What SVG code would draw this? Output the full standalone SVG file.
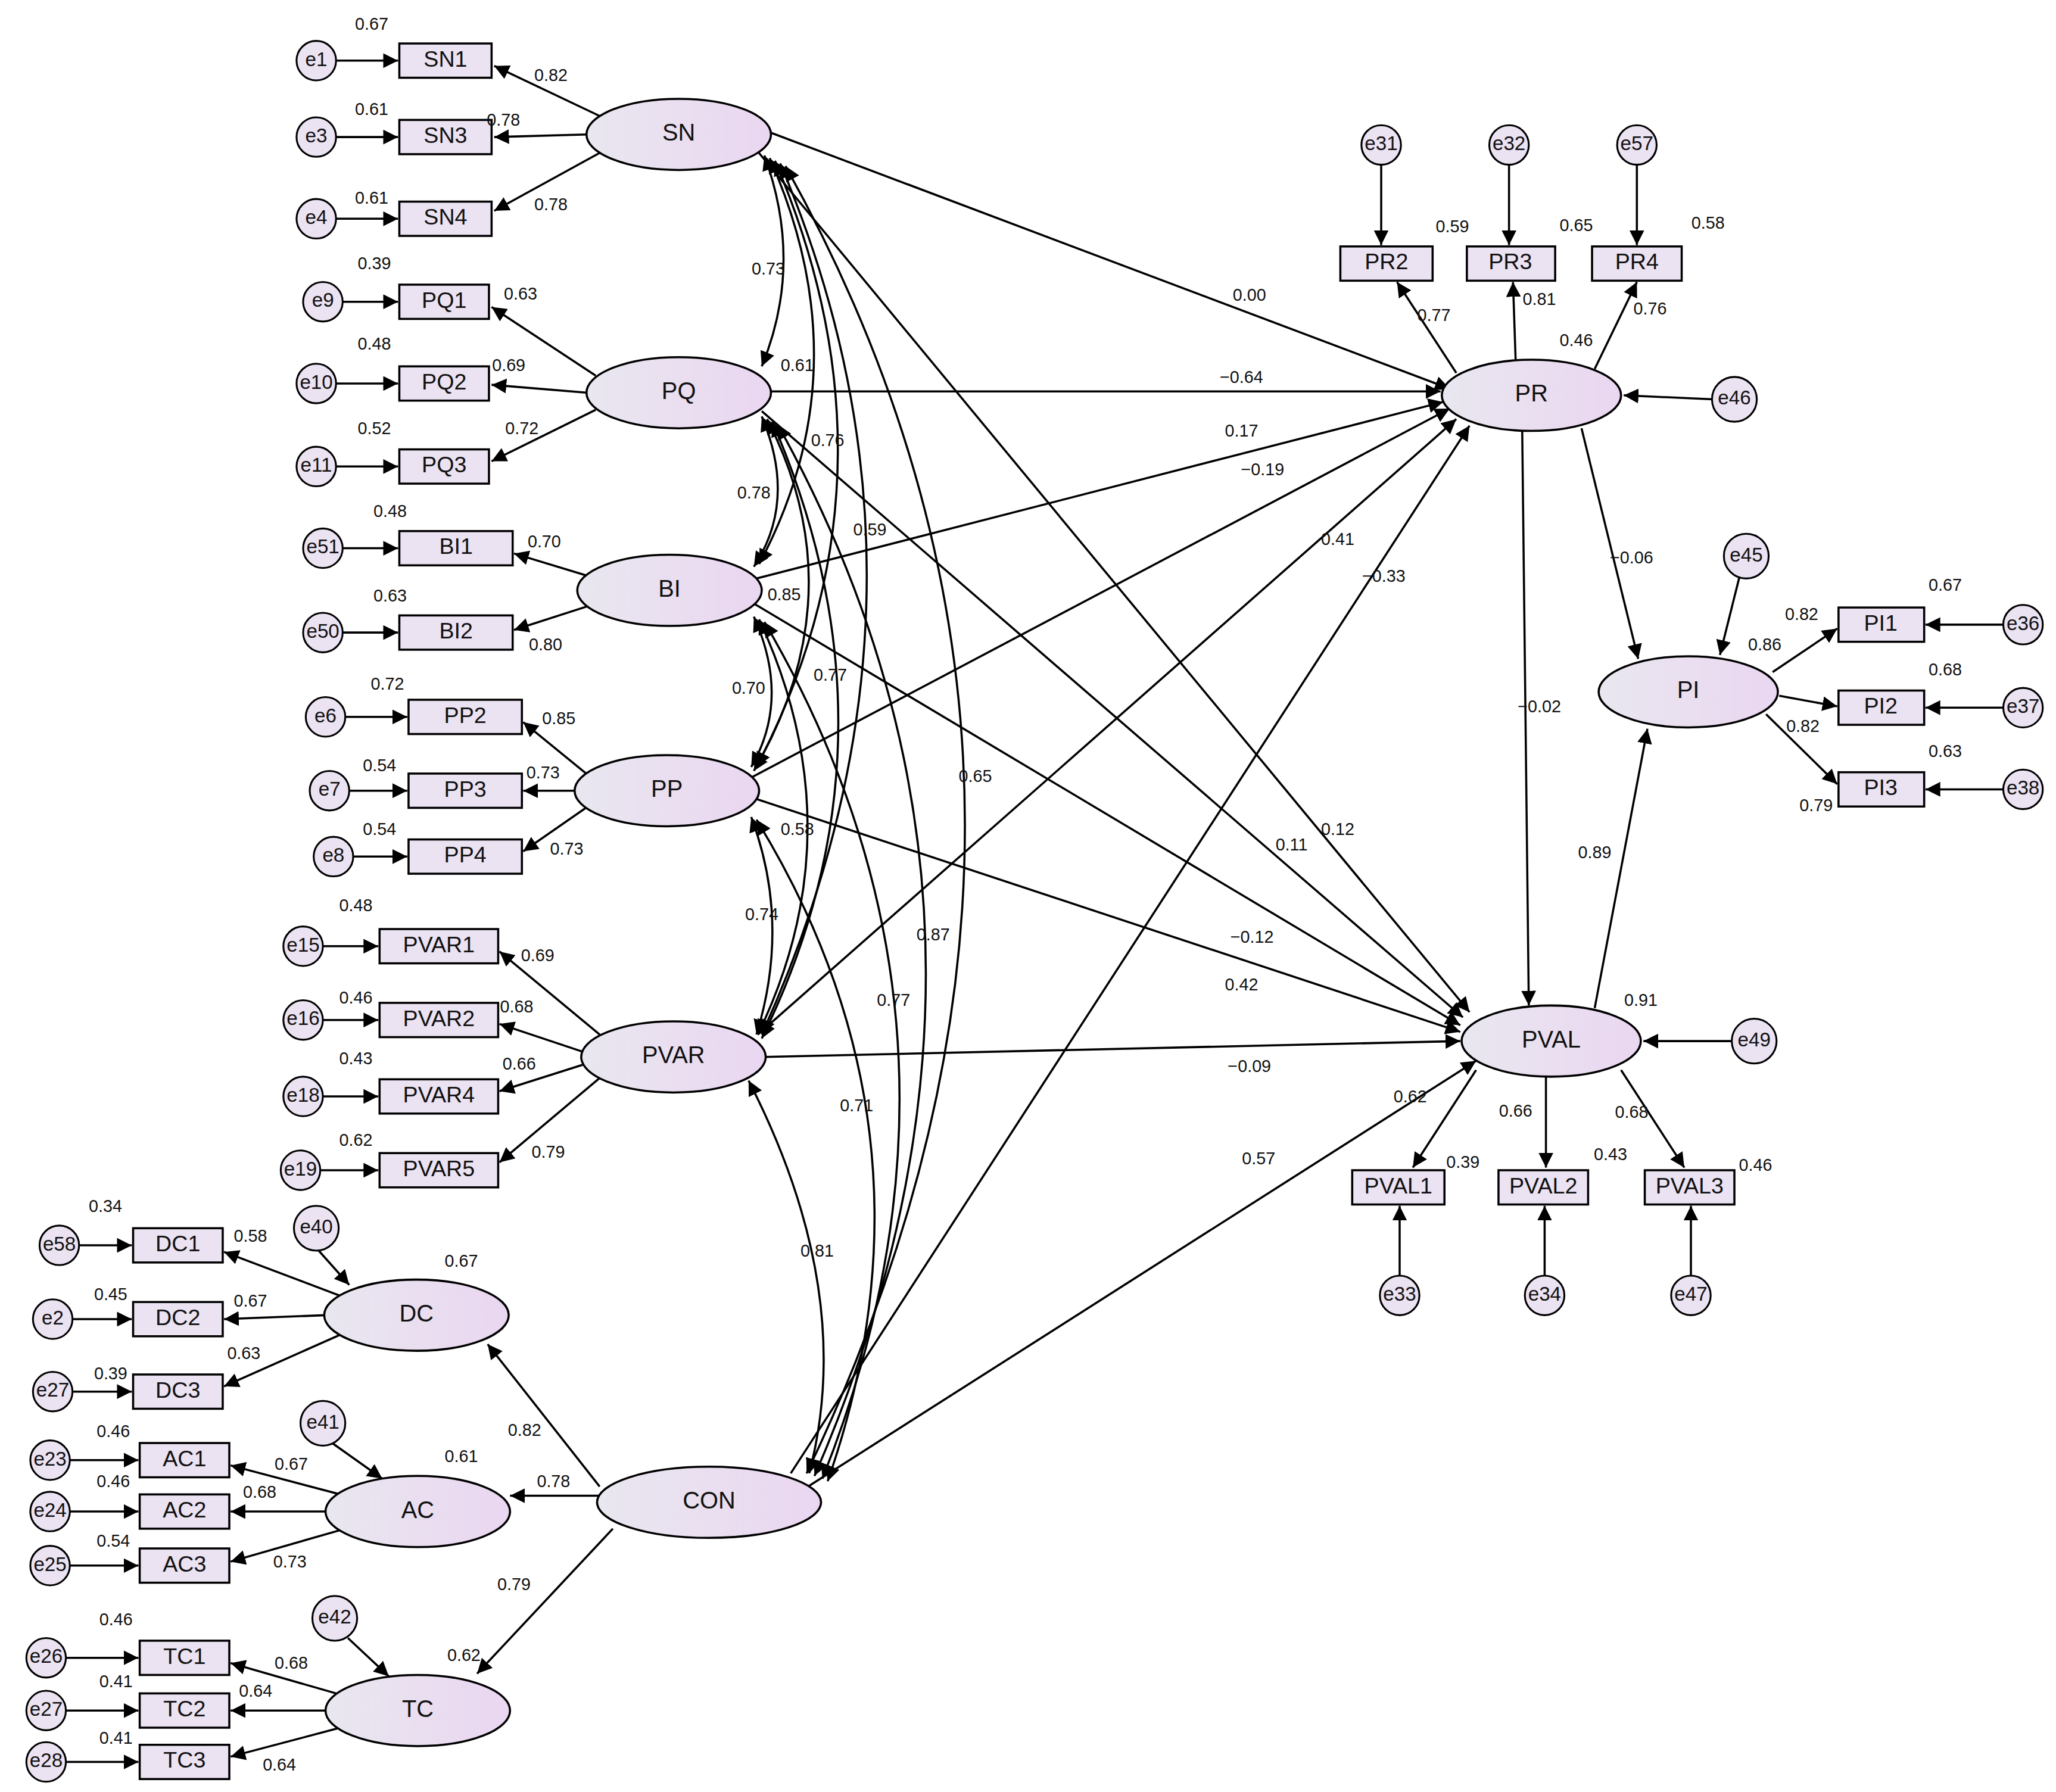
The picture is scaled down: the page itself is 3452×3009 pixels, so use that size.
<svg xmlns="http://www.w3.org/2000/svg" width="3452" height="3009" viewBox="0 0 3452 3009">
<defs>
<linearGradient id="g" x1="0" y1="0" x2="1" y2="0"><stop offset="0" stop-color="#e9e7ef"/><stop offset="1" stop-color="#ead6f1"/></linearGradient>
<marker id="a" viewBox="0 0 10 10" refX="10" refY="5" markerWidth="7" markerHeight="7" orient="auto-start-reverse"><path d="M0,0L10,5L0,10z" fill="#000"/></marker>
<style>
.l{fill:url(#g);stroke:#000;stroke-width:1.6}
.b{fill:#ebe2f2;stroke:#000;stroke-width:1.6}
.e{fill:#ebe2f2;stroke:#000;stroke-width:1.4}
text{font-family:"Liberation Sans",Arial,sans-serif;fill:#111;text-anchor:middle;dominant-baseline:middle}
.t{font-size:18px}.s{font-size:17px}.n{font-size:13px}.r{font-size:15px}
#c line,#c path{stroke:#000;stroke-width:1.6;fill:none;marker-end:url(#a)}
#c .d{marker-start:url(#a)}
</style>
</defs>
<rect width="3452" height="3009" fill="#fff"/>
<g transform="scale(2.2128)">
<g id="c">
<line x1="455" y1="88" x2="375" y2="50"/><line x1="446" y1="102" x2="375" y2="104"/><line x1="455" y1="116" x2="375" y2="160"/>
<line x1="452" y1="285" x2="373" y2="233"/><line x1="446" y1="298" x2="373" y2="292"/><line x1="452" y1="311" x2="373" y2="350"/>
<line x1="446" y1="437" x2="390" y2="420"/><line x1="446" y1="460" x2="390" y2="478"/>
<line x1="446" y1="588" x2="397" y2="548"/><line x1="437" y1="600" x2="397" y2="600"/><line x1="446" y1="612" x2="397" y2="646"/>
<line x1="455" y1="785" x2="379" y2="722"/><line x1="442" y1="798" x2="379" y2="777"/><line x1="442" y1="808" x2="379" y2="828"/><line x1="455" y1="818" x2="379" y2="882"/>
<line x1="260" y1="984" x2="170" y2="950"/><line x1="247" y1="998" x2="170" y2="1001"/><line x1="260" y1="1012" x2="170" y2="1052"/>
<line x1="262" y1="1135" x2="175" y2="1112"/><line x1="248" y1="1147" x2="175" y2="1147"/><line x1="262" y1="1160" x2="175" y2="1185"/>
<line x1="262" y1="1287" x2="175" y2="1262"/><line x1="248" y1="1298" x2="175" y2="1298"/><line x1="262" y1="1310" x2="175" y2="1333"/>
<line x1="255" y1="46" x2="302" y2="46"/><line x1="255" y1="104" x2="302" y2="104"/><line x1="255" y1="166" x2="302" y2="166"/>
<line x1="260" y1="229" x2="302" y2="229"/><line x1="255" y1="291" x2="302" y2="291"/><line x1="255" y1="354" x2="302" y2="354"/>
<line x1="260" y1="416" x2="302" y2="416"/><line x1="260" y1="480" x2="302" y2="480"/>
<line x1="262" y1="544" x2="309" y2="544"/><line x1="265" y1="600" x2="309" y2="600"/><line x1="268" y1="650" x2="309" y2="650"/>
<line x1="245" y1="718" x2="287" y2="718"/><line x1="245" y1="774" x2="287" y2="774"/><line x1="245" y1="832" x2="287" y2="832"/><line x1="243" y1="888" x2="287" y2="888"/>
<line x1="60" y1="945" x2="100" y2="945"/><line x1="55" y1="1001" x2="100" y2="1001"/><line x1="55" y1="1056" x2="100" y2="1056"/>
<line x1="53" y1="1108" x2="105" y2="1108"/><line x1="53" y1="1147" x2="105" y2="1147"/><line x1="53" y1="1188" x2="105" y2="1188"/>
<line x1="50" y1="1258" x2="105" y2="1258"/><line x1="50" y1="1298" x2="105" y2="1298"/><line x1="50" y1="1337" x2="105" y2="1337"/>
<line x1="240" y1="947" x2="265" y2="975"/><line x1="252" y1="1095" x2="290" y2="1122"/><line x1="264" y1="1243" x2="295" y2="1272"/>
<line x1="455" y1="1128" x2="370" y2="1020"/><line x1="455" y1="1135" x2="387" y2="1135"/><line x1="465" y1="1160" x2="362" y2="1270"/>
<line x1="1105" y1="283" x2="1060" y2="214"/><line x1="1150" y1="273" x2="1148" y2="214"/><line x1="1210" y1="280" x2="1242" y2="214"/>
<line x1="1048" y1="125" x2="1048" y2="186"/><line x1="1145" y1="125" x2="1145" y2="186"/><line x1="1242" y1="125" x2="1242" y2="186"/>
<line x1="1300" y1="303" x2="1232" y2="300"/>
<line x1="1345" y1="510" x2="1394" y2="477"/><line x1="1350" y1="528" x2="1394" y2="536"/><line x1="1340" y1="542" x2="1394" y2="595"/>
<line x1="1520" y1="474" x2="1461" y2="474"/><line x1="1520" y1="537" x2="1461" y2="537"/><line x1="1520" y1="599" x2="1461" y2="599"/>
<line x1="1320" y1="437" x2="1305" y2="497"/>
<line x1="1120" y1="812" x2="1072" y2="886"/><line x1="1173" y1="817" x2="1173" y2="886"/><line x1="1230" y1="812" x2="1278" y2="886"/>
<line x1="1062" y1="968" x2="1062" y2="915"/><line x1="1172" y1="968" x2="1172" y2="915"/><line x1="1283" y1="968" x2="1283" y2="915"/>
<line x1="1315" y1="790" x2="1247" y2="790"/>
<line x1="1155" y1="327" x2="1160" y2="763"/><line x1="1200" y1="325" x2="1243" y2="500"/><line x1="1210" y1="765" x2="1250" y2="553"/>
<line x1="583" y1="100" x2="1100" y2="295"/><line x1="585" y1="297" x2="1093" y2="297"/><line x1="570" y1="440" x2="1095" y2="305"/>
<line x1="570" y1="590" x2="1100" y2="310"/><line x1="575" y1="785" x2="1105" y2="318"/><line x1="600" y1="1118" x2="1115" y2="323"/>
<line x1="575" y1="115" x2="1115" y2="768"/><line x1="578" y1="312" x2="1110" y2="772"/><line x1="572" y1="458" x2="1108" y2="778"/>
<line x1="570" y1="605" x2="1108" y2="783"/><line x1="580" y1="802" x2="1108" y2="790"/><line x1="610" y1="1130" x2="1120" y2="805"/>
<path class="d" d="M580,118 Q610,200 578,278"/>
<path class="d" d="M584,120 Q655,280 576,428"/>
<path class="d" d="M588,122 Q690,360 574,582"/>
<path class="d" d="M592,124 Q730,450 578,785"/>
<path class="d" d="M596,126 Q860,600 612,1118"/>
<path class="d" d="M578,316 Q605,380 572,430"/>
<path class="d" d="M582,318 Q650,450 572,585"/>
<path class="d" d="M586,320 Q690,560 578,788"/>
<path class="d" d="M590,322 Q800,700 618,1120"/>
<path class="d" d="M572,468 Q600,530 570,582"/>
<path class="d" d="M576,470 Q650,630 575,785"/>
<path class="d" d="M580,472 Q760,780 624,1122"/>
<path class="d" d="M570,620 Q600,700 574,785"/>
<path class="d" d="M574,622 Q720,860 628,1124"/>
<path class="d" d="M568,820 Q650,980 614,1118"/>
</g>
<g id="SN"><ellipse class="l" cx="515" cy="102" rx="70" ry="27"/><text class="t" x="515" y="102">SN</text></g>
<g id="PQ"><ellipse class="l" cx="515" cy="298" rx="70" ry="27"/><text class="t" x="515" y="298">PQ</text></g>
<g id="BI"><ellipse class="l" cx="508" cy="448" rx="70" ry="27"/><text class="t" x="508" y="448">BI</text></g>
<g id="PP"><ellipse class="l" cx="506" cy="600" rx="70" ry="27"/><text class="t" x="506" y="600">PP</text></g>
<g id="PVAR"><ellipse class="l" cx="511" cy="802" rx="70" ry="27"/><text class="t" x="511" y="802">PVAR</text></g>
<g id="DC"><ellipse class="l" cx="316" cy="998" rx="70" ry="27"/><text class="t" x="316" y="998">DC</text></g>
<g id="AC"><ellipse class="l" cx="317" cy="1147" rx="70" ry="27"/><text class="t" x="317" y="1147">AC</text></g>
<g id="TC"><ellipse class="l" cx="317" cy="1298" rx="70" ry="27"/><text class="t" x="317" y="1298">TC</text></g>
<g id="CON"><ellipse class="l" cx="538" cy="1140" rx="85" ry="27"/><text class="t" x="538" y="1140">CON</text></g>
<g id="PR"><ellipse class="l" cx="1162" cy="300" rx="68" ry="27"/><text class="t" x="1162" y="300">PR</text></g>
<g id="PI"><ellipse class="l" cx="1281" cy="525" rx="68" ry="27"/><text class="t" x="1281" y="525">PI</text></g>
<g id="PVAL"><ellipse class="l" cx="1177" cy="790" rx="68" ry="27"/><text class="t" x="1177" y="790">PVAL</text></g>
<g id="boxes">
<g id="SN1"><rect class="b" x="303" y="33" width="70" height="26"/><text class="s" x="338" y="46">SN1</text></g>
<g id="SN3"><rect class="b" x="303" y="91" width="70" height="26"/><text class="s" x="338" y="104">SN3</text></g>
<g id="SN4"><rect class="b" x="303" y="153" width="70" height="26"/><text class="s" x="338" y="166">SN4</text></g>
<g id="PQ1"><rect class="b" x="303" y="216" width="68" height="26"/><text class="s" x="337" y="229">PQ1</text></g>
<g id="PQ2"><rect class="b" x="303" y="278" width="68" height="26"/><text class="s" x="337" y="291">PQ2</text></g>
<g id="PQ3"><rect class="b" x="303" y="341" width="68" height="26"/><text class="s" x="337" y="354">PQ3</text></g>
<g id="BI1"><rect class="b" x="303" y="403" width="86" height="26"/><text class="s" x="346" y="416">BI1</text></g>
<g id="BI2"><rect class="b" x="303" y="467" width="86" height="26"/><text class="s" x="346" y="480">BI2</text></g>
<g id="PP2"><rect class="b" x="310" y="531" width="86" height="26"/><text class="s" x="353" y="544">PP2</text></g>
<g id="PP3"><rect class="b" x="310" y="587" width="86" height="26"/><text class="s" x="353" y="600">PP3</text></g>
<g id="PP4"><rect class="b" x="310" y="637" width="86" height="26"/><text class="s" x="353" y="650">PP4</text></g>
<g id="PVAR1"><rect class="b" x="288" y="705" width="90" height="26"/><text class="s" x="333" y="718">PVAR1</text></g>
<g id="PVAR2"><rect class="b" x="288" y="761" width="90" height="26"/><text class="s" x="333" y="774">PVAR2</text></g>
<g id="PVAR4"><rect class="b" x="288" y="819" width="90" height="26"/><text class="s" x="333" y="832">PVAR4</text></g>
<g id="PVAR5"><rect class="b" x="288" y="875" width="90" height="26"/><text class="s" x="333" y="888">PVAR5</text></g>
<g id="DC1"><rect class="b" x="101" y="932" width="68" height="26"/><text class="s" x="135" y="945">DC1</text></g>
<g id="DC2"><rect class="b" x="101" y="988" width="68" height="26"/><text class="s" x="135" y="1001">DC2</text></g>
<g id="DC3"><rect class="b" x="101" y="1043" width="68" height="26"/><text class="s" x="135" y="1056">DC3</text></g>
<g id="AC1"><rect class="b" x="106" y="1095" width="68" height="26"/><text class="s" x="140" y="1108">AC1</text></g>
<g id="AC2"><rect class="b" x="106" y="1134" width="68" height="26"/><text class="s" x="140" y="1147">AC2</text></g>
<g id="AC3"><rect class="b" x="106" y="1175" width="68" height="26"/><text class="s" x="140" y="1188">AC3</text></g>
<g id="TC1"><rect class="b" x="106" y="1245" width="68" height="26"/><text class="s" x="140" y="1258">TC1</text></g>
<g id="TC2"><rect class="b" x="106" y="1285" width="68" height="26"/><text class="s" x="140" y="1298">TC2</text></g>
<g id="TC3"><rect class="b" x="106" y="1324" width="68" height="26"/><text class="s" x="140" y="1337">TC3</text></g>
<g id="PR2"><rect class="b" x="1017" y="187" width="70" height="26"/><text class="s" x="1052" y="200">PR2</text></g>
<g id="PR3"><rect class="b" x="1113" y="187" width="67" height="26"/><text class="s" x="1146" y="200">PR3</text></g>
<g id="PR4"><rect class="b" x="1208" y="187" width="68" height="26"/><text class="s" x="1242" y="200">PR4</text></g>
<g id="PI1"><rect class="b" x="1395" y="461" width="65" height="26"/><text class="s" x="1427" y="474">PI1</text></g>
<g id="PI2"><rect class="b" x="1395" y="524" width="65" height="26"/><text class="s" x="1427" y="537">PI2</text></g>
<g id="PI3"><rect class="b" x="1395" y="586" width="65" height="26"/><text class="s" x="1427" y="599">PI3</text></g>
<g id="PVAL1"><rect class="b" x="1026" y="888" width="70" height="26"/><text class="s" x="1061" y="901">PVAL1</text></g>
<g id="PVAL2"><rect class="b" x="1137" y="888" width="68" height="26"/><text class="s" x="1171" y="901">PVAL2</text></g>
<g id="PVAL3"><rect class="b" x="1248" y="888" width="68" height="26"/><text class="s" x="1282" y="901">PVAL3</text></g>
</g>
<g id="errors">
<g><circle class="e" cx="240" cy="46" r="15"/><text class="r" x="240" y="46">e1</text></g>
<g><circle class="e" cx="240" cy="104" r="15"/><text class="r" x="240" y="104">e3</text></g>
<g><circle class="e" cx="240" cy="166" r="15"/><text class="r" x="240" y="166">e4</text></g>
<g><circle class="e" cx="245" cy="229" r="15"/><text class="r" x="245" y="229">e9</text></g>
<g><circle class="e" cx="240" cy="291" r="15"/><text class="r" x="240" y="291">e10</text></g>
<g><circle class="e" cx="240" cy="354" r="15"/><text class="r" x="240" y="354">e11</text></g>
<g><circle class="e" cx="245" cy="416" r="15"/><text class="r" x="245" y="416">e51</text></g>
<g><circle class="e" cx="245" cy="480" r="15"/><text class="r" x="245" y="480">e50</text></g>
<g><circle class="e" cx="247" cy="544" r="15"/><text class="r" x="247" y="544">e6</text></g>
<g><circle class="e" cx="250" cy="600" r="15"/><text class="r" x="250" y="600">e7</text></g>
<g><circle class="e" cx="253" cy="650" r="15"/><text class="r" x="253" y="650">e8</text></g>
<g><circle class="e" cx="230" cy="718" r="15"/><text class="r" x="230" y="718">e15</text></g>
<g><circle class="e" cx="230" cy="774" r="15"/><text class="r" x="230" y="774">e16</text></g>
<g><circle class="e" cx="230" cy="832" r="15"/><text class="r" x="230" y="832">e18</text></g>
<g><circle class="e" cx="228" cy="888" r="15"/><text class="r" x="228" y="888">e19</text></g>
<g><circle class="e" cx="45" cy="945" r="15"/><text class="r" x="45" y="945">e58</text></g>
<g><circle class="e" cx="40" cy="1001" r="15"/><text class="r" x="40" y="1001">e2</text></g>
<g><circle class="e" cx="40" cy="1056" r="15"/><text class="r" x="40" y="1056">e27</text></g>
<g><circle class="e" cx="38" cy="1108" r="15"/><text class="r" x="38" y="1108">e23</text></g>
<g><circle class="e" cx="38" cy="1147" r="15"/><text class="r" x="38" y="1147">e24</text></g>
<g><circle class="e" cx="38" cy="1188" r="15"/><text class="r" x="38" y="1188">e25</text></g>
<g><circle class="e" cx="35" cy="1258" r="15"/><text class="r" x="35" y="1258">e26</text></g>
<g><circle class="e" cx="35" cy="1298" r="15"/><text class="r" x="35" y="1298">e27</text></g>
<g><circle class="e" cx="35" cy="1337" r="15"/><text class="r" x="35" y="1337">e28</text></g>
<g><circle class="e" cx="240" cy="932" r="17"/><text class="r" x="240" y="932">e40</text></g>
<g><circle class="e" cx="245" cy="1080" r="17"/><text class="r" x="245" y="1080">e41</text></g>
<g><circle class="e" cx="254" cy="1228" r="17"/><text class="r" x="254" y="1228">e42</text></g>
<g><circle class="e" cx="1048" cy="110" r="15"/><text class="r" x="1048" y="110">e31</text></g>
<g><circle class="e" cx="1145" cy="110" r="15"/><text class="r" x="1145" y="110">e32</text></g>
<g><circle class="e" cx="1242" cy="110" r="15"/><text class="r" x="1242" y="110">e57</text></g>
<g><circle class="e" cx="1316" cy="303" r="17"/><text class="r" x="1316" y="303">e46</text></g>
<g><circle class="e" cx="1325" cy="422" r="17"/><text class="r" x="1325" y="422">e45</text></g>
<g><circle class="e" cx="1535" cy="474" r="15"/><text class="r" x="1535" y="474">e36</text></g>
<g><circle class="e" cx="1535" cy="537" r="15"/><text class="r" x="1535" y="537">e37</text></g>
<g><circle class="e" cx="1535" cy="599" r="15"/><text class="r" x="1535" y="599">e38</text></g>
<g><circle class="e" cx="1331" cy="790" r="17"/><text class="r" x="1331" y="790">e49</text></g>
<g><circle class="e" cx="1062" cy="983" r="15"/><text class="r" x="1062" y="983">e33</text></g>
<g><circle class="e" cx="1172" cy="983" r="15"/><text class="r" x="1172" y="983">e34</text></g>
<g><circle class="e" cx="1283" cy="983" r="15"/><text class="r" x="1283" y="983">e47</text></g>
</g>
<g id="labels" class="n">
<text x="583" y="205">0.73</text><text x="605" y="278">0.61</text><text x="628" y="335">0.76</text><text x="572" y="375">0.78</text><text x="660" y="403">0.59</text><text x="595" y="452">0.85</text><text x="568" y="523">0.70</text><text x="630" y="513">0.77</text><text x="740" y="590">0.65</text><text x="605" y="630">0.58</text><text x="578" y="695">0.74</text><text x="708" y="710">0.87</text><text x="678" y="760">0.77</text><text x="650" y="840">0.71</text><text x="620" y="950">0.81</text>
<text x="948" y="225">0.00</text><text x="942" y="287">−0.64</text><text x="942" y="328">0.17</text><text x="958" y="357">−0.19</text><text x="1015" y="410">0.41</text><text x="1050" y="438">−0.33</text><text x="1015" y="630">0.12</text><text x="980" y="642">0.11</text><text x="950" y="712">−0.12</text><text x="942" y="748">0.42</text><text x="948" y="810">−0.09</text><text x="955" y="880">0.57</text><text x="1238" y="424">−0.06</text><text x="1168" y="537">−0.02</text><text x="1210" y="648">0.89</text><text x="1245" y="760">0.91</text><text x="1196" y="259">0.46</text><text x="1070" y="833">0.62</text>
<text x="1088" y="240">0.77</text><text x="1168" y="228">0.81</text><text x="1252" y="235">0.76</text><text x="1102" y="173">0.59</text><text x="1196" y="172">0.65</text><text x="1296" y="170">0.58</text>
<text x="1367" y="467">0.82</text><text x="1339" y="490">0.86</text><text x="1368" y="552">0.82</text><text x="1378" y="612">0.79</text><text x="1476" y="445">0.67</text><text x="1476" y="509">0.68</text><text x="1476" y="571">0.63</text>
<text x="1150" y="844">0.66</text><text x="1238" y="845">0.68</text><text x="1110" y="883">0.39</text><text x="1222" y="877">0.43</text><text x="1332" y="885">0.46</text>
<text x="282" y="19">0.67</text><text x="282" y="84">0.61</text><text x="282" y="151">0.61</text><text x="284" y="201">0.39</text><text x="284" y="262">0.48</text><text x="284" y="326">0.52</text><text x="296" y="389">0.48</text><text x="296" y="453">0.63</text><text x="294" y="520">0.72</text><text x="288" y="582">0.54</text><text x="288" y="630">0.54</text><text x="270" y="688">0.48</text><text x="270" y="758">0.46</text><text x="270" y="804">0.43</text><text x="270" y="866">0.62</text><text x="80" y="916">0.34</text><text x="84" y="983">0.45</text><text x="84" y="1043">0.39</text><text x="86" y="1087">0.46</text><text x="86" y="1125">0.46</text><text x="86" y="1170">0.54</text><text x="88" y="1230">0.46</text><text x="88" y="1277">0.41</text><text x="88" y="1320">0.41</text>
<text x="418" y="58">0.82</text><text x="382" y="92">0.78</text><text x="418" y="156">0.78</text><text x="395" y="224">0.63</text><text x="386" y="278">0.69</text><text x="396" y="326">0.72</text><text x="413" y="412">0.70</text><text x="414" y="490">0.80</text><text x="424" y="546">0.85</text><text x="412" y="587">0.73</text><text x="430" y="645">0.73</text><text x="408" y="726">0.69</text><text x="392" y="765">0.68</text><text x="394" y="808">0.66</text><text x="416" y="875">0.79</text><text x="190" y="939">0.58</text><text x="190" y="988">0.67</text><text x="185" y="1028">0.63</text><text x="221" y="1112">0.67</text><text x="197" y="1133">0.68</text><text x="220" y="1186">0.73</text><text x="221" y="1263">0.68</text><text x="194" y="1284">0.64</text><text x="212" y="1340">0.64</text>
<text x="350" y="958">0.67</text><text x="350" y="1106">0.61</text><text x="352" y="1257">0.62</text><text x="398" y="1086">0.82</text><text x="420" y="1125">0.78</text><text x="390" y="1203">0.79</text>
</g>
</g>
</svg>
